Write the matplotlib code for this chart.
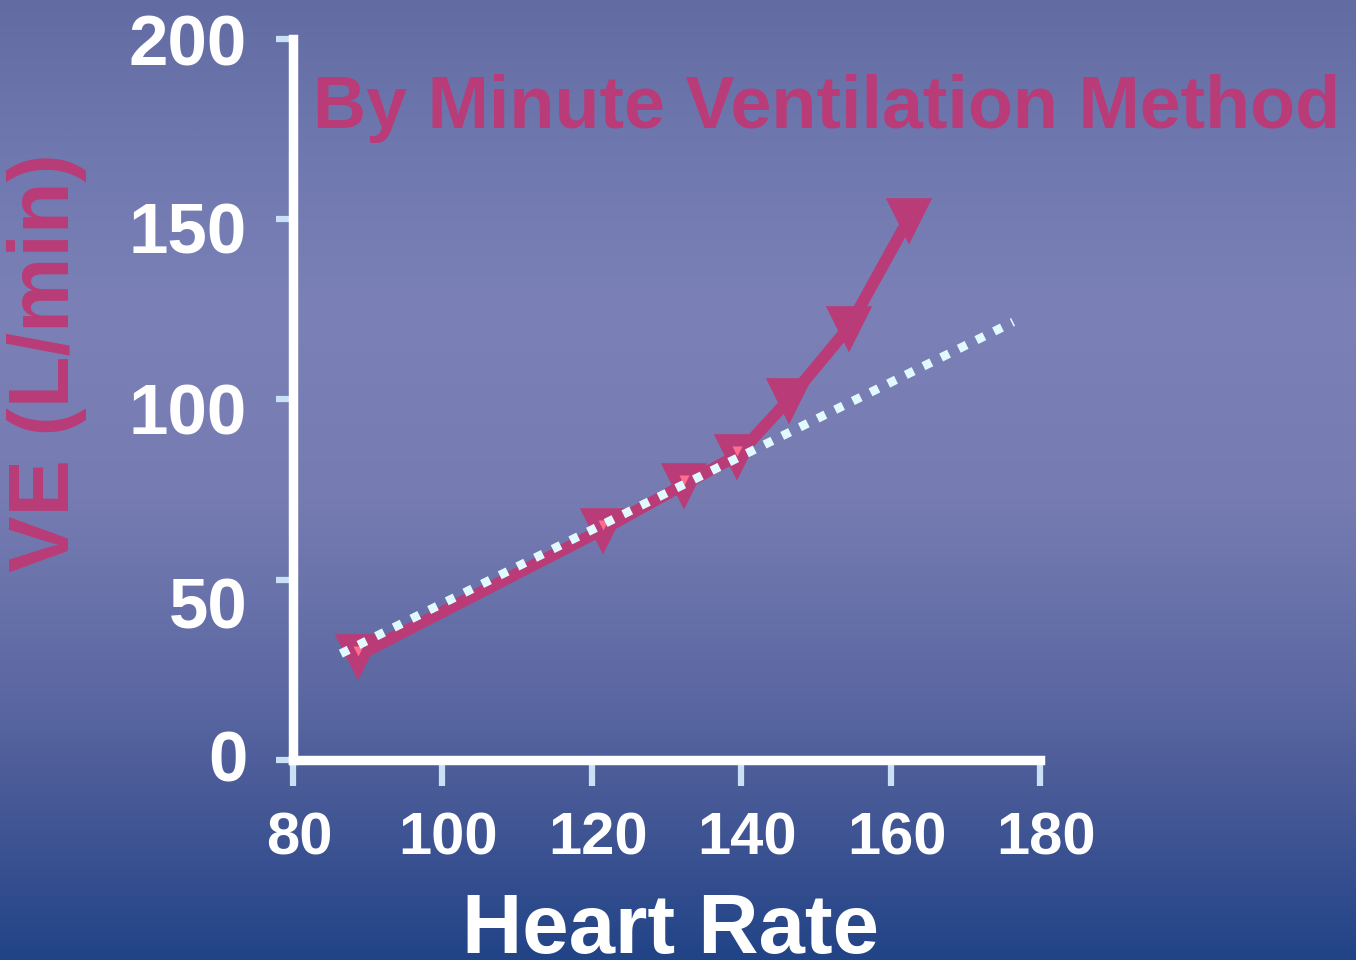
import numpy as np
import matplotlib
matplotlib.use("Agg")
import matplotlib.pyplot as plt
from matplotlib.colors import LinearSegmentedColormap
from matplotlib.transforms import ScaledTranslation

# Minute ventilation vs heart rate
heart_rate = [88.7, 121.5, 132.4, 139.5, 146.4, 154.4, 162.4]
ve_l_min = [29, 64, 76.5, 84.5, 100, 120, 150]

# Linear reference trend
trend_hr = [86.4, 176.4]
trend_ve = [29.5, 121.5]

x_ticks = [80, 100, 120, 140, 160, 180]
y_ticks = [0, 50, 100, 150, 200]

PINK = "#B93C78"
HILITE = "#FF6E8C"
TICK_BLUE = "#C8E1F5"
DOT = "#E1FAFF"

plt.rcParams["font.family"] = ["Liberation Sans", "DejaVu Sans"]

fig = plt.figure(figsize=(13.56, 9.6), dpi=100)

# vertical gradient background
bg = fig.add_axes([0, 0, 1, 1], zorder=-10)
stops = [(0.00, (98/255, 108/255, 162/255)),
         (0.12, (108/255, 118/255, 173/255)),
         (0.32, (123/255, 129/255, 183/255)),
         (0.52, (118/255, 124/255, 178/255)),
         (0.72, (92/255, 104/255, 162/255)),
         (0.84, (70/255, 88/255, 150/255)),
         (1.00, (33/255, 68/255, 135/255))]
cmap = LinearSegmentedColormap.from_list("bg", stops)
grad = np.linspace(0, 1, 512).reshape(-1, 1)
bg.imshow(grad, aspect="auto", cmap=cmap, extent=[0, 1, 0, 1], origin="upper")
bg.set_axis_off()

ax = fig.add_axes([293/1356, 1 - 760/960, (1040 - 293)/1356, (760 - 39)/960])
ax.set_facecolor("none")
ax.set_xlim(80, 180)
ax.set_ylim(0, 200)

for side in ("top", "right"):
    ax.spines[side].set_visible(False)
for side in ("left", "bottom"):
    ax.spines[side].set_color("white")
    ax.spines[side].set_linewidth(6.8)
    ax.spines[side].set_capstyle("projecting")
    ax.spines[side].set_zorder(5)

ax.set_xticks(x_ticks)
ax.set_yticks(y_ticks)
ax.tick_params(axis="x", direction="out", length=19, width=4.5, pad=18,
               labelsize=43, labelcolor="white", color=TICK_BLUE)
ax.tick_params(axis="y", direction="out", length=12, width=4.5, pad=21,
               labelsize=51, labelcolor="white", color=TICK_BLUE)
for lab in ax.get_xticklabels() + ax.get_yticklabels():
    lab.set_fontweight("bold")

# end ticks are white
xt = ax.xaxis.get_major_ticks()
for i in (0, len(xt) - 1):
    xt[i].tick1line.set_color("white")
ax.yaxis.get_major_ticks()[0].tick1line.set_color("white")

# nudge tick labels
for lab in ax.get_xticklabels():
    lab.set_transform(lab.get_transform() + ScaledTranslation(6/100, 0, fig.dpi_scale_trans))
y_shift_px = [4, -23, -10, -9, -1]
for lab, dy in zip(ax.get_yticklabels(), y_shift_px):
    lab.set_transform(lab.get_transform() + ScaledTranslation(0, dy/100, fig.dpi_scale_trans))

# measured ventilation
ax.plot(heart_rate, ve_l_min, color=PINK, lw=8.5, solid_joinstyle="round",
        marker="v", ms=25, mec=PINK, mfc=PINK, mew=5.5, zorder=3, clip_on=False)
hl, = ax.plot(heart_rate[:4], ve_l_min[:4], ls="none", marker="v", ms=7,
              mfc=HILITE, mec="none", zorder=3.5)
hl.set_transform(ax.transData + ScaledTranslation(0, 4/100, fig.dpi_scale_trans))

# reference trend
ax.plot(trend_hr, trend_ve, color=DOT, lw=6.3, ls=(0, (1, 1.25)),
        dash_capstyle="butt", zorder=4, clip_on=False)

fig.text(313/1356, 1 - 128/960, "By Minute Ventilation Method", color=PINK,
         fontsize=53, fontweight="bold", ha="left", va="baseline")
fig.text(47/1356, 1 - 363/960, "VE (L/min)", color=PINK, fontsize=61,
         fontweight="bold", rotation=90, ha="center", va="center")
fig.text(670/1356, 1 - 953/960, "Heart Rate", color="white", fontsize=60,
         fontweight="bold", ha="center", va="baseline")

fig.savefig("out.png", dpi=100)
